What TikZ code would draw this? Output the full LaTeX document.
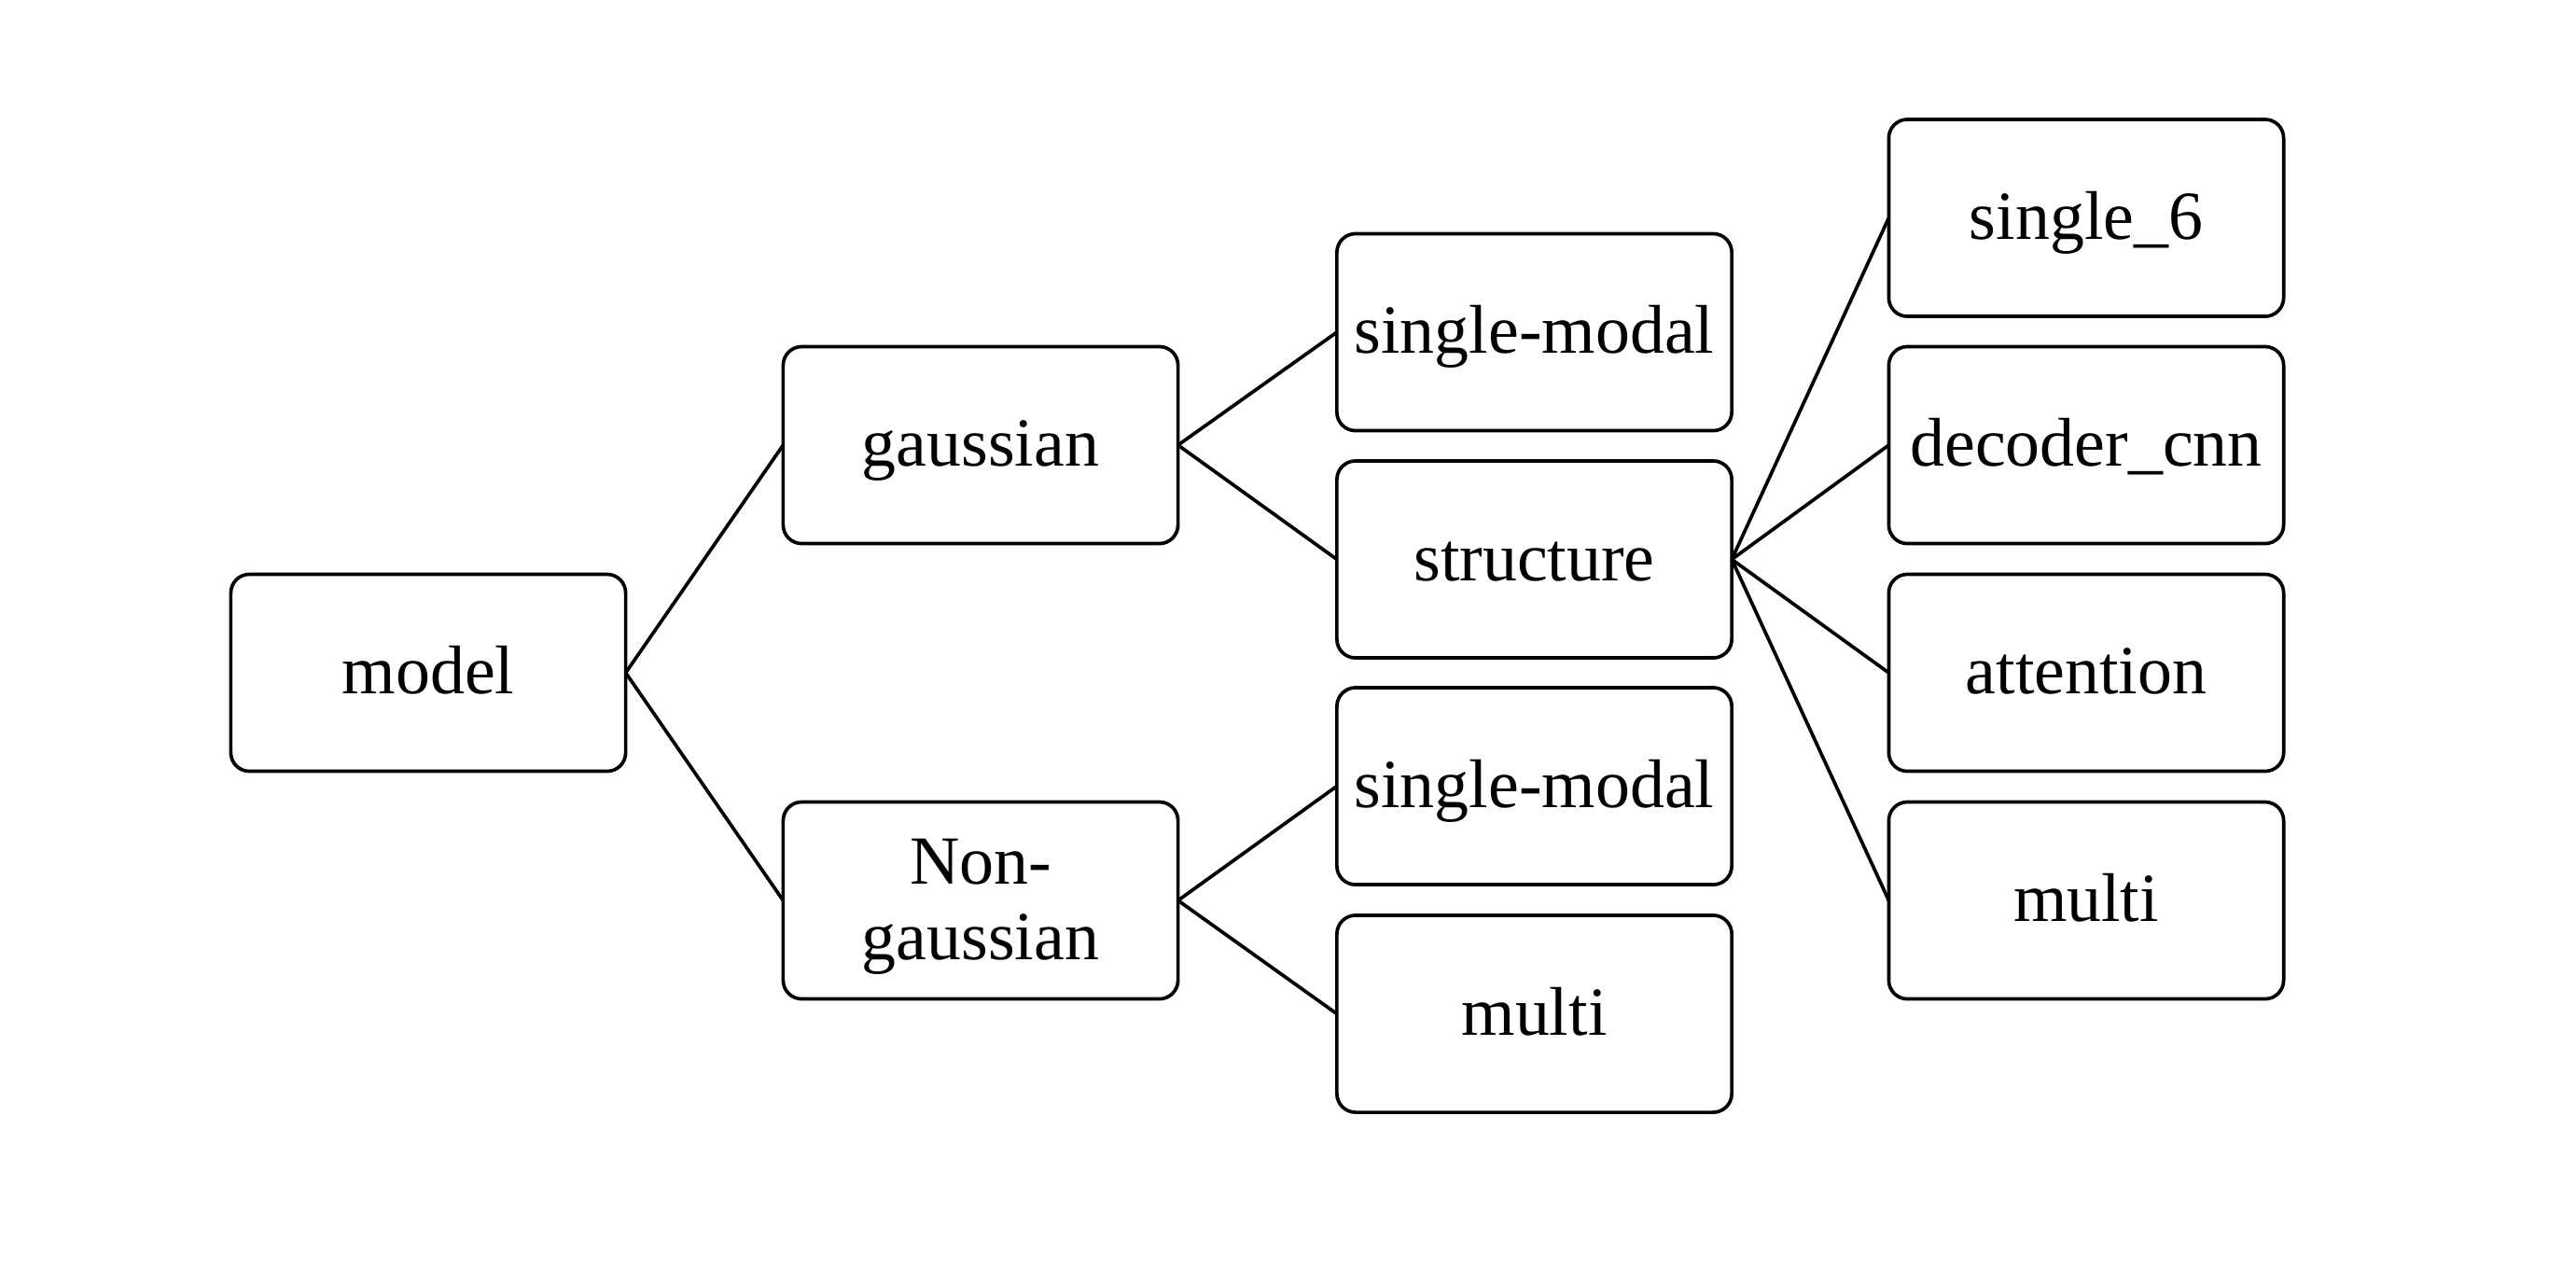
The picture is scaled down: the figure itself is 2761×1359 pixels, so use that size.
\documentclass[tikz,border=0pt]{standalone}
\usepackage{fontspec}
\setmainfont{Liberation Serif}
\begin{document}
\begin{tikzpicture}[x=0.01cm, y=-0.01cm,
  box/.style={draw, line width=1.05pt, rounded corners=0.2cm,
    minimum width=4.23cm, minimum height=2.11cm, align=center,
    inner sep=0pt, outer sep=0pt,
    font=\fontsize{21}{23}\selectfont},
  oneline/.style={box, text height=15pt, text depth=2.2pt},
  twoline/.style={box, text depth=0.5pt},
  link/.style={line width=1.05pt}]
  \useasboundingbox (0,0) rectangle (2761,1359);

  % root
  \node[oneline] (model) at (459,721) {model};

  % second level
  \node[oneline] (gauss) at (1051,477) {gaussian};
  \node[twoline] (nongauss) at (1051,965) {Non-\\gaussian};

  % third level
  \node[oneline] (gsingle) at (1644.5,356) {single-modal};
  \node[oneline] (struct) at (1644.5,599.5) {structure};
  \node[oneline] (ngsingle) at (1644.5,842.5) {single-modal};
  \node[oneline] (ngmulti) at (1644.5,1086.5) {multi};

  % fourth level
  \node[oneline] (single6) at (2236,233.5) {single\_6};
  \node[oneline] (deccnn) at (2236,477) {decoder\_cnn};
  \node[oneline] (attn) at (2236,721) {attention};
  \node[oneline] (smulti) at (2236,965) {multi};

  % connectors
  \draw[link] (model.east) -- (gauss.west);
  \draw[link] (model.east) -- (nongauss.west);
  \draw[link] (gauss.east) -- (gsingle.west);
  \draw[link] (gauss.east) -- (struct.west);
  \draw[link] (nongauss.east) -- (ngsingle.west);
  \draw[link] (nongauss.east) -- (ngmulti.west);
  \draw[link] (struct.east) -- (single6.west);
  \draw[link] (struct.east) -- (deccnn.west);
  \draw[link] (struct.east) -- (attn.west);
  \draw[link] (struct.east) -- (smulti.west);
\end{tikzpicture}
\end{document}
